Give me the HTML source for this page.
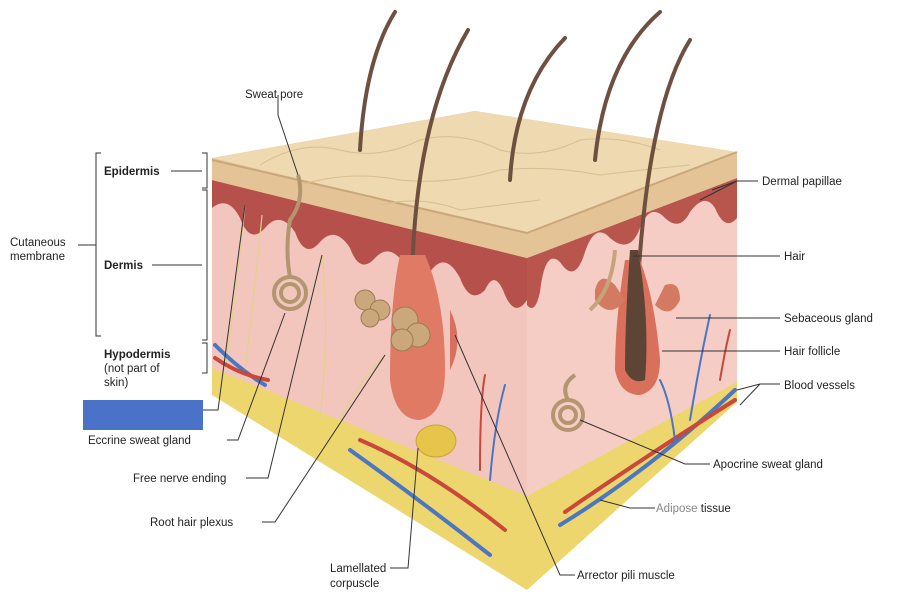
<!DOCTYPE html>
<html><head><meta charset="utf-8"><style>
body{margin:0;background:#fff;}
svg{display:block;font-family:"Liberation Sans",sans-serif;}
text{font-size:11.5px;fill:#222;}
</style></head><body>
<svg width="900" height="604" viewBox="0 0 900 604" xmlns="http://www.w3.org/2000/svg">
<rect width="900" height="604" fill="#fff"/>
<polygon points="212,180 527,258 527,588 212,392" fill="#f3c6bd"/>
<polygon points="527,258 737,178 737,402 527,588" fill="#f5cdc5"/>
<polygon points="212,368 527,496 527,590 212,395" fill="#eed66e"/>
<polygon points="527,496 737,382 737,402 527,590" fill="#eed66e"/>
<path d="M212,180 L527,258 L527,300 Q515,318 505,295 Q495,268 485,290 Q470,305 460,278 Q445,250 430,272 Q418,290 405,265 Q390,242 375,258 Q360,275 350,248 Q335,225 320,242 Q305,260 295,232 Q280,210 265,228 Q250,245 240,218 Q228,195 212,208 Z" fill="#b5514a"/>
<path d="M527,258 L737,178 L737,218 Q725,232 715,208 Q705,192 690,212 Q680,232 665,218 Q650,202 640,228 Q630,255 610,238 Q595,222 585,252 Q575,285 560,262 Q545,248 540,292 Q535,315 527,305 Z" fill="#b8564e"/>
<polygon points="212,158 475,111 737,152 737,178 527,258 212,180" fill="#e4c496"/>
<polygon points="212,158 475,111 737,152 527,233" fill="#efd9b0"/>
<polyline points="212,160 527,233 737,152" fill="none" stroke="#c9a77a" stroke-width="2"/>
<g fill="none" stroke="#d8bd90" stroke-width="1">
<path d="M260,165 Q300,140 340,150 Q380,160 420,140 Q460,130 500,150 Q540,160 580,140 Q620,135 660,150"/>
<path d="M300,185 Q350,170 400,180 Q450,185 500,170 Q550,165 600,175 Q640,170 690,165"/>
<path d="M380,205 Q420,195 460,210 Q500,205 540,200"/>
</g>
<g fill="none" stroke="#6e5040" stroke-width="4" stroke-linecap="round">
<path d="M360,150 Q365,60 395,12"/>
<path d="M412,280 Q415,120 468,30"/>
<path d="M510,180 Q515,90 565,38"/>
<path d="M595,160 Q605,60 660,12"/>
<path d="M635,360 Q640,120 690,40"/>
</g>
<path d="M400,255 Q390,300 390,380 Q395,420 420,420 Q445,415 445,370 Q445,300 425,255 Z" fill="#e07a64"/>
<path d="M450,310 Q465,340 450,370 Z" fill="#d87060"/>
<g fill="#cba77c" stroke="#9c7a55"><circle cx="365" cy="300" r="10"/><circle cx="380" cy="310" r="10"/><circle cx="370" cy="318" r="9"/><circle cx="405" cy="320" r="13"/><circle cx="418" cy="335" r="12"/><circle cx="402" cy="340" r="11"/></g>
<path d="M625,260 Q615,320 615,370 Q620,395 640,395 Q660,390 660,360 Q655,300 640,260 Z" fill="#d9705c"/>
<path d="M630,250 Q625,320 625,370 Q632,385 645,380 Q650,320 638,250 Z" fill="#5e4434"/>
<path d="M595,290 Q600,270 615,285 L625,300 Q610,320 595,300 Z M665,285 Q680,280 680,300 Q670,320 655,305 Z" fill="#d47a62"/>
<path d="M615,250 Q612,290 590,310" fill="none" stroke="#c6a47a" stroke-width="4"/>
<g fill="none" stroke="#b39570" stroke-width="4">
<circle cx="290" cy="293" r="16"/><circle cx="290" cy="293" r="9"/>
<path d="M298,175 Q305,200 290,220 Q285,250 290,277"/>
<circle cx="568" cy="415" r="15"/><circle cx="568" cy="415" r="8"/>
<path d="M575,375 Q560,385 568,400"/>
</g>
<g fill="none" stroke="#e3d18a" stroke-width="1.2">
<path d="M245,205 Q238,280 225,370"/><path d="M262,215 Q255,290 245,370"/>
<path d="M322,255 Q330,330 320,420"/><path d="M385,355 Q360,380 340,420"/>
</g>
<ellipse cx="436" cy="441" rx="20" ry="16" fill="#e7c54a" stroke="#c9a43a"/>
<g fill="none" stroke-width="4" stroke-linecap="round">
<path d="M215,345 Q240,370 265,385" stroke="#4a76c2"/>
<path d="M215,358 Q240,375 268,380" stroke="#c9483a"/>
<path d="M350,450 Q420,500 490,555" stroke="#4a76c2"/>
<path d="M360,440 Q430,470 505,530" stroke="#c9483a"/>
<path d="M490,480 Q495,420 505,385" stroke="#4a76c2" stroke-width="2"/>
<path d="M480,470 Q480,400 485,375" stroke="#c9483a" stroke-width="2"/>
<path d="M560,525 Q650,470 735,390" stroke="#4a76c2"/>
<path d="M565,512 Q640,460 735,400" stroke="#c9483a"/>
<path d="M690,420 Q700,360 710,315" stroke="#4a76c2" stroke-width="2"/>
<path d="M675,440 Q670,400 660,380" stroke="#4a76c2" stroke-width="2"/>
<path d="M720,380 Q725,350 730,330" stroke="#c9483a" stroke-width="2"/>
</g>
<rect x="83" y="400" width="120" height="30" fill="#4a72c8"/>
<g fill="none" stroke="#333" stroke-width="1">
<path d="M101,153 L96,153 L96,336 L101,336"/>
<path d="M202,153 L207,153 L207,188 L202,188"/>
<path d="M202,190 L207,190 L207,340 L202,340"/>
<path d="M202,343 L207,343 L207,373 L202,373"/>
<line x1="78" y1="245" x2="96" y2="245"/>
<line x1="171" y1="171" x2="202" y2="171"/>
<line x1="152" y1="265" x2="202" y2="265"/>
<polyline points="278,95 278,115 298,175"/>
<polyline points="758,181 737,181 712,190"/><line x1="737" y1="181" x2="700" y2="200"/>
<line x1="633" y1="256" x2="780" y2="256"/>
<polyline points="676,318 780,318"/>
<line x1="662" y1="351" x2="780" y2="351"/>
<polyline points="780,384 760,384 737,390"/><line x1="760" y1="384" x2="740" y2="405"/>
<polyline points="580,420 685,464 710,464"/>
<polyline points="600,500 630,508 655,508"/>
<polyline points="455,335 560,575 575,575"/>
<polyline points="418,448 408,568 390,568"/>
<polyline points="385,355 275,522 262,522"/>
<polyline points="322,255 268,478 246,478"/>
<polyline points="285,313 238,440 227,440"/>
<polyline points="245,205 218,410 203,410"/>
</g>
<text x="245" y="98">Sweat pore</text>
<text x="104" y="175" font-weight="bold">Epidermis</text>
<text x="104" y="269" font-weight="bold">Dermis</text>
<text x="10" y="246">Cutaneous</text>
<text x="10" y="260">membrane</text>
<text x="104" y="358" font-weight="bold">Hypodermis</text>
<text x="104" y="372">(not part of</text>
<text x="104" y="386">skin)</text>
<text x="88" y="444">Eccrine sweat gland</text>
<text x="133" y="482">Free nerve ending</text>
<text x="150" y="526">Root hair plexus</text>
<text x="330" y="572">Lamellated</text>
<text x="330" y="587">corpuscle</text>
<text x="577" y="579">Arrector pili muscle</text>
<text x="656" y="512" style="fill:#888">Adipose <tspan style="fill:#222">tissue</tspan></text>
<text x="713" y="468">Apocrine sweat gland</text>
<text x="784" y="389">Blood vessels</text>
<text x="784" y="355">Hair follicle</text>
<text x="784" y="322">Sebaceous gland</text>
<text x="784" y="260">Hair</text>
<text x="762" y="185">Dermal papillae</text>
</svg>
</body></html>
